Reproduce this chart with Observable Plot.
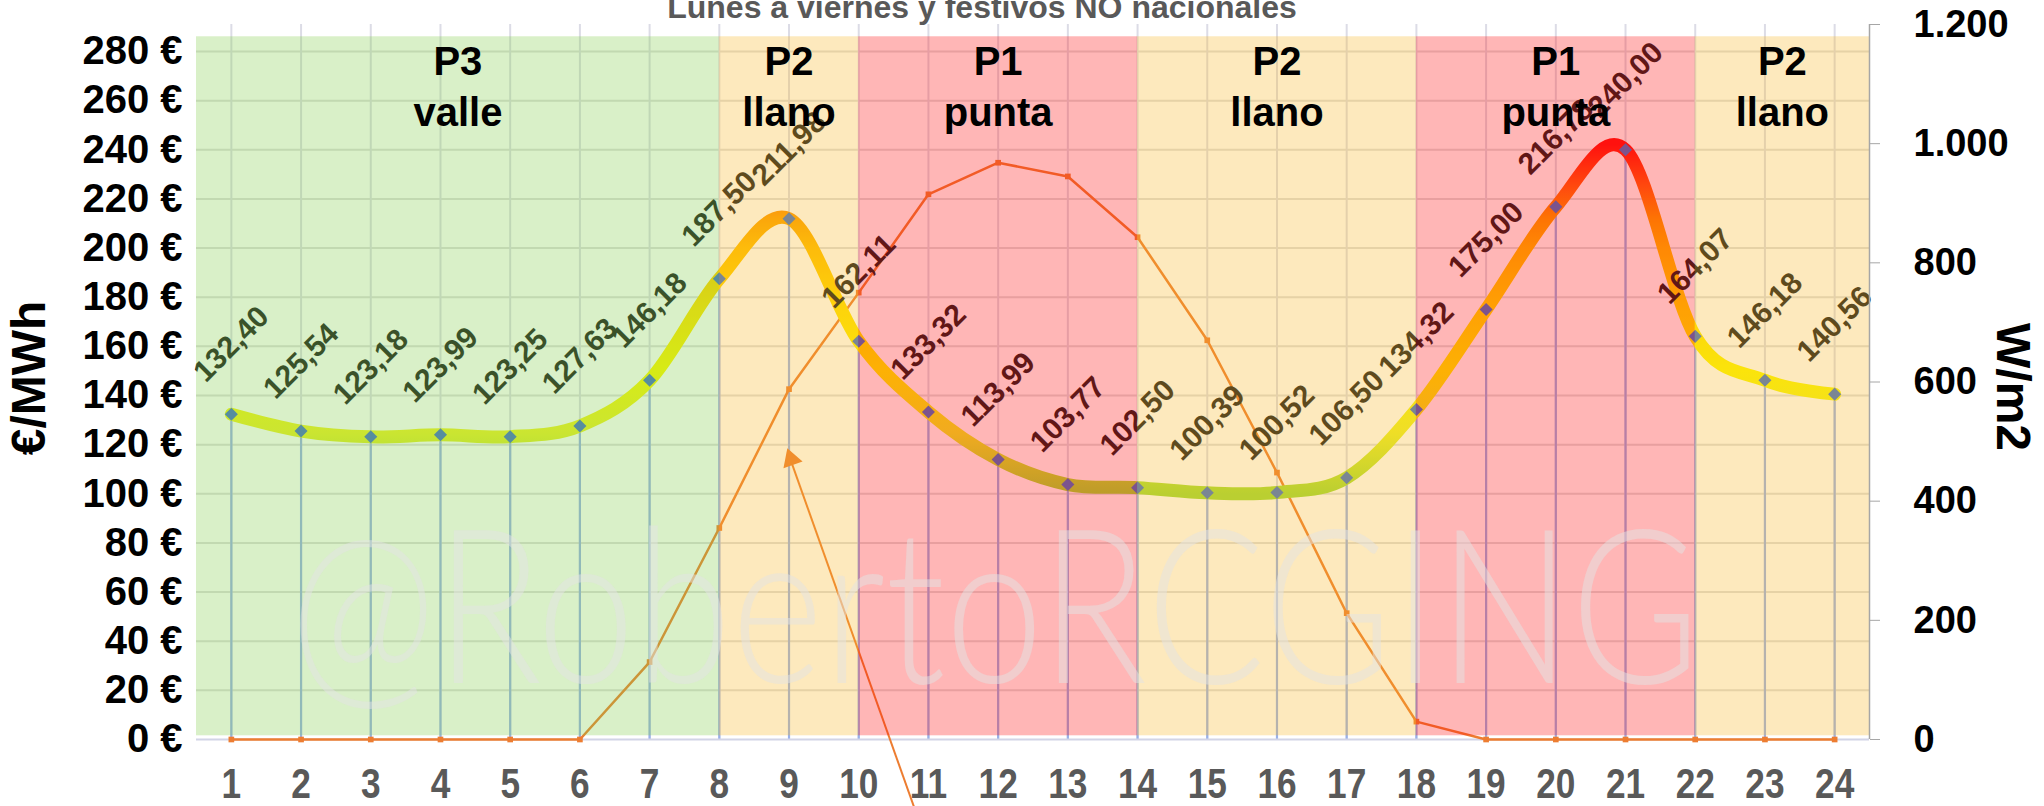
<!DOCTYPE html>
<html>
<head>
<meta charset="utf-8">
<script src="https://cdn.jsdelivr.net/npm/d3@7"></script>
<script src="https://cdn.jsdelivr.net/npm/@observablehq/plot@0.6"></script>
<style>
  html, body { margin: 0; padding: 0; background: #fff; }
  #chart { width: 2044px; height: 806px; overflow: hidden; }
</style>
</head>
<body>
<div id="chart"></div>
<script>
// ---------- data ----------
const hours = [1,2,3,4,5,6,7,8,9,10,11,12,13,14,15,16,17,18,19,20,21,22,23,24];
const price = [132.40,125.54,123.18,123.99,123.25,127.63,146.18,187.50,211.98,162.11,133.32,113.99,
               103.77,102.50,100.39,100.52,106.50,134.32,175.00,216.78,240.00,164.07,146.18,140.56];
const irradiance = [0,0,0,0,0,0,130,355,588,750,915,968,945,843,670,448,212,30,0,0,0,0,0,0];
const priceTicks = [0,20,40,60,80,100,120,140,160,180,200,220,240,260,280];
const irradianceTicks = [0,200,400,600,800,1000,1200];
const periodStart = [0.5, 8, 10, 14, 18, 22];
const periodEnd   = [8, 10, 14, 18, 22, 24.5];
const periodCode  = ["P3","P2","P1","P2","P1","P2"];
const periodName  = ["valle","llano","punta","llano","punta","llano"];
const arrowLine = [{x1: 10.8, y1: -28, x2: 9.02, y2: 114}];
const arrowHead = [{x: 9.03, y: 114}];
const titleText = "Lunes a viernes y festivos NO nacionales";
const yLabel = "€/MWh";
const y2Label = "W/m2";
const watermark = "@RobertoRCGING";

// ---------- styles ----------
const xDomain = [0.5, 24.5];
const yMax = 291;
const wScale = yMax / 1200;
const periodColor = {P3: "#80CD48", P2: "#F8B626", P1: "#FF0C0C"};
const gradStops = [[100,"#A0DA37"],[125,"#EBF028"],[150,"#FCF800"],[175,"#FFE100"],
                   [200,"#FFBE00"],[212,"#FCA000"],[225,"#FF640F"],[242,"#FF140F"]];
const baseFont = '"Liberation Sans", Arial, sans-serif';

const es = d3.formatLocale({decimal: ",", thousands: ".", grouping: [3], currency: ["", " €"]});
const fmt2 = es.format(",.2f");
const fmtInt = es.format(",");

const priceData = hours.map((h, i) => ({hour: h, price: price[i]}));
const irrData = hours.map((h, i) => ({hour: h, w: irradiance[i]}));
const periods = periodStart.map((s, i) => ({start: s, end: periodEnd[i], code: periodCode[i], name: periodName[i]}));

const ns = "http://www.w3.org/2000/svg";
function gradientDefs(index, scales) {
  const defs = document.createElementNS(ns, "defs");
  const g = document.createElementNS(ns, "linearGradient");
  g.setAttribute("id", "priceGrad");
  g.setAttribute("gradientUnits", "userSpaceOnUse");
  const v0 = gradStops[0][0], v1 = gradStops[gradStops.length - 1][0];
  g.setAttribute("x1", 0); g.setAttribute("x2", 0);
  g.setAttribute("y1", scales.y(v0)); g.setAttribute("y2", scales.y(v1));
  for (const [v, c] of gradStops) {
    const s = document.createElementNS(ns, "stop");
    s.setAttribute("offset", (v - v0) / (v1 - v0));
    s.setAttribute("stop-color", c);
    g.appendChild(s);
  }
  defs.appendChild(g);
  return defs;
}

const chart = Plot.plot({
  width: 2044,
  height: 806,
  marginTop: 24,
  marginBottom: 67,
  marginLeft: 196,
  marginRight: 175,
  style: {fontFamily: baseFont, background: "#fff", overflow: "visible"},
  x: {domain: xDomain},
  y: {domain: [0, yMax]},
  color: {type: "identity"},
  marks: [
    gradientDefs,
    // grid
    Plot.ruleY(priceTicks.slice(1), {stroke: "#DEDEDE", strokeWidth: 2}),
    Plot.ruleX(hours, {stroke: "#DCDCE6", strokeWidth: 2}),
    Plot.ruleX(priceData, {x: "hour", y1: 0, y2: "price", stroke: "#98B0EA", strokeWidth: 2.2}),
    Plot.ruleY([0], {stroke: "#D2D4E6", strokeWidth: 2}),
    // irradiance
    Plot.line(irrData, {x: "hour", y: d => d.w * wScale, stroke: "#ED7D31", strokeWidth: 2.5}),
    Plot.dot(irrData, {x: "hour", y: d => d.w * wScale, symbol: "square", r: 3.2, fill: "#ED7D31"}),
    // arrow
    Plot.link(arrowLine, {x1: "x1", y1: "y1", x2: "x2", y2: "y2", stroke: "#ED7D31", strokeWidth: 2}),
    Plot.dot(arrowHead, {x: "x", y: "y", symbol: "triangle", r: 7.5, rotate: -19, fill: "#ED7D31"}),
    // price
    Plot.line(priceData, {x: "hour", y: "price", curve: "cardinal", stroke: "url(#priceGrad)", strokeWidth: 13, strokeLinecap: "round"}),
    Plot.dot(priceData, {x: "hour", y: "price", symbol: "square", r: 5.2, rotate: 45, fill: "#4472C4"}),
    Plot.text(priceData, {x: "hour", y: "price", text: d => fmt2(d.price), rotate: -45, dy: -70,
      fontSize: 30, fontWeight: "bold", fill: "#1c1c1c"}),
    // period overlay
    Plot.rect(periods, {x1: "start", x2: "end", y1: 1.5, y2: 286, fill: d => periodColor[d.code], fillOpacity: 0.3}),
    // watermark
    Plot.text([watermark], {text: d => d, frameAnchor: "middle", textAnchor: "middle", dx: -38, dy: 232, fontSize: 215,
      fontFamily: "Lato", fontWeight: 300, fill: "#e4e4e4", fillOpacity: 0.5}),
    // period labels
    Plot.text(periods, {x: d => (d.start + d.end) / 2, frameAnchor: "top", lineAnchor: "top", dy: 14,
      text: d => d.code + "\n" + d.name, lineHeight: 1.28, fontSize: 40, fontWeight: "bold", fill: "#000"}),
    // axes
    Plot.axisX(hours, {tickSize: 0, tickPadding: 29, fontSize: 42, fontWeight: "bold",
      fill: "#595959", label: null}),
    Plot.axisY(priceTicks, {anchor: "left", tickSize: 0, tickPadding: 14, tickFormat: d => d + " €",
      fontSize: 40, fontWeight: "bold", fill: "#000", label: null}),
    Plot.axisY(irradianceTicks.map(w => w * wScale), {anchor: "right", tickSize: 10, tickPadding: 34,
      tickFormat: d => fmtInt(Math.round(d / wScale)), fontSize: 38, fontWeight: "bold", fill: "#000",
      stroke: "#A6A6A6", label: null}),
    Plot.ruleX([xDomain[1]], {stroke: "#A6A6A6", strokeWidth: 1.5}),
    // titles
    Plot.text([yLabel], {text: d => d, frameAnchor: "left", textAnchor: "middle", dx: -167, dy: -4, rotate: -90,
      fontSize: 48, fontWeight: "bold", fill: "#000"}),
    Plot.text([y2Label], {text: d => d, frameAnchor: "right", textAnchor: "middle", dx: 143, dy: 5, rotate: 90,
      fontSize: 48, fontWeight: "bold", fill: "#000"}),
    Plot.text([titleText], {text: d => d, frameAnchor: "top", lineAnchor: "bottom", dx: -51, dy: -7,
      fontSize: 32, fontWeight: "bold", fill: "#595959"})
  ]
});

document.getElementById("chart").appendChild(chart);

for (const t of chart.querySelectorAll("text")) {
  if (t.textContent === watermark) {
    t.setAttribute("textLength", 1410);
    t.setAttribute("lengthAdjust", "spacingAndGlyphs");
  }
}
// narrower hour numbers, as in the reference
for (const t of chart.querySelectorAll('g[aria-label="x-axis tick label"] text')) {
  const w = t.getComputedTextLength();
  if (w > 0) {
    t.setAttribute("textLength", (w * 0.84).toFixed(1));
    t.setAttribute("lengthAdjust", "spacingAndGlyphs");
  }
}
</script>
</body>
</html>
